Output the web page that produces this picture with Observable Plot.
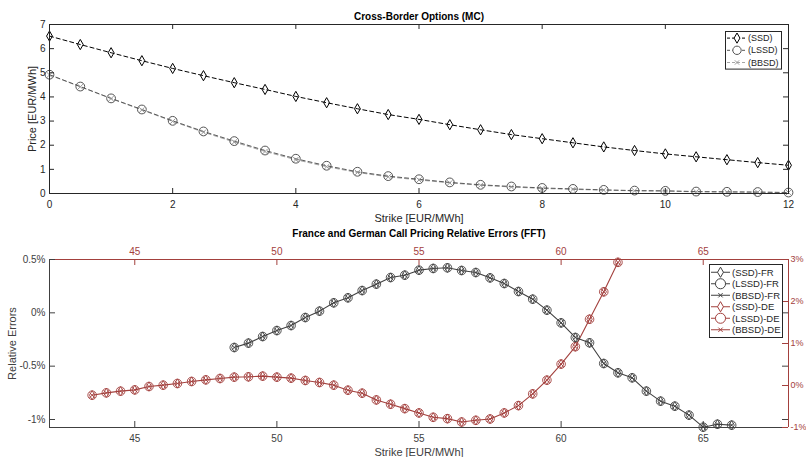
<!DOCTYPE html>
<html><head><meta charset="utf-8">
<script src="https://cdn.jsdelivr.net/npm/d3@7"></script>
<script src="https://cdn.jsdelivr.net/npm/@observablehq/plot@0.6"></script>
<style>
body{margin:0;background:#fff;}
#c{width:806px;}
#c svg{display:block;}
</style>
</head><body><div id="c"></div>
<script>
// ---------- data: top panel (MC prices) ----------
const mcStrike = [0,0.5,1,1.5,2,2.5,3,3.5,4,4.5,5,5.5,6,6.5,7,7.5,8,8.5,9,9.5,10,10.5,11,11.5,12];
const mcSSD  = [6.52,6.17,5.83,5.50,5.18,4.88,4.59,4.31,4.02,3.76,3.51,3.27,3.07,2.85,2.64,2.44,2.27,2.10,1.93,1.78,1.64,1.52,1.40,1.28,1.17];
const mcLSSD = [4.92,4.43,3.94,3.48,3.01,2.57,2.17,1.78,1.44,1.15,0.90,0.72,0.59,0.46,0.36,0.29,0.23,0.19,0.15,0.12,0.11,0.08,0.07,0.06,0.04];
const mcBBSD = [4.91,4.42,3.93,3.46,2.99,2.54,2.13,1.74,1.40,1.11,0.87,0.69,0.56,0.44,0.34,0.27,0.21,0.17,0.14,0.11,0.10,0.07,0.06,0.05,0.04];
const mcXTicks = [0,2,4,6,8,10,12];
const mcYTicks = [0,1,2,3,4,5,6,7];

// ---------- data: bottom panel (FFT relative errors, %) ----------
const frStrike = [48.5,49,49.5,50,50.5,51,51.5,52,52.5,53,53.5,54,54.5,55,55.5,56,56.5,57,57.5,58,58.5,59,59.5,60,60.5,61,61.5,62,62.5,63,63.5,64,64.5,65,65.5,66];
const frErr = [-0.325,-0.284,-0.222,-0.166,-0.119,-0.044,0.016,0.094,0.141,0.209,0.269,0.331,0.353,0.400,0.416,0.422,0.397,0.378,0.328,0.275,0.200,0.128,0.025,-0.094,-0.231,-0.281,-0.475,-0.562,-0.609,-0.734,-0.828,-0.875,-0.959,-1.072,-1.044,-1.053];
const deStrike = [43.5,44,44.5,45,45.5,46,46.5,47,47.5,48,48.5,49,49.5,50,50.5,51,51.5,52,52.5,53,53.5,54,54.5,55,55.5,56,56.5,57,57.5,58,58.5,59,59.5,60,60.5,61,61.5,62];
const deErr = [-0.231,-0.175,-0.135,-0.104,-0.024,0.008,0.048,0.096,0.135,0.167,0.199,0.207,0.223,0.199,0.175,0.120,0.072,0.008,-0.112,-0.183,-0.343,-0.446,-0.550,-0.653,-0.757,-0.789,-0.869,-0.829,-0.797,-0.653,-0.478,-0.199,0.127,0.510,0.924,1.578,2.231,2.932];
const errXTicks = [45,50,55,60,65];
const frYTicks = [0.5,0,-0.5,-1];
const deYTicks = [3,2,1,0,-1];

const FONT = "'Liberation Sans', Arial, Helvetica, sans-serif";
const AX = "#262626";
const GR = "#404040";
const RED = "#a3403d";

// ---------- top panel ----------
const mcData = mcStrike.map((x,i)=>({x, ssd: mcSSD[i], lssd: mcLSSD[i], bbsd: mcBBSD[i]}));
const W = 806, ML = 49, MR = 18;
const H1 = 226, MT1 = 24, MB1 = 33, IH1 = H1 - MT1 - MB1;
const dash = "4,3";

const topChart = Plot.plot({
  width: W, height: H1, marginTop: MT1, marginBottom: MB1, marginLeft: ML, marginRight: MR,
  x: {domain: [0, 12]},
  y: {domain: [0, 7]},
  style: {fontFamily: FONT, fontSize: "10px", color: AX, background: "#fff"},
  marks: [
    Plot.line(mcData, {x: "x", y: "bbsd", stroke: "#a6a6a6", strokeWidth: 1, strokeDasharray: dash}),
    Plot.line(mcData, {x: "x", y: "lssd", stroke: "#5a5a5a", strokeWidth: 1, strokeDasharray: dash}),
    Plot.line(mcData, {x: "x", y: "ssd", stroke: "#000", strokeWidth: 1, strokeDasharray: dash}),
    Plot.dot(mcData, {x: "x", y: "bbsd", symbol: "times", r: 2.6, stroke: "#9a9a9a", strokeWidth: 1}),
    Plot.dot(mcData, {x: "x", y: "lssd", symbol: "circle", r: 4.4, stroke: "#555", strokeWidth: 1, fill: "none"}),
    Plot.dot(mcData, {x: "x", y: "ssd", symbol: "diamond", r: 3.1, stroke: "#000", strokeWidth: 1, fill: "none"}),
    Plot.frame({stroke: AX}),
    Plot.tickX(mcXTicks, {x: d => d, insetTop: IH1 - 5, stroke: AX}),
    Plot.tickX(mcXTicks, {x: d => d, insetBottom: IH1 - 5, stroke: AX}),
    Plot.tickY(mcYTicks, {y: d => d, insetRight: W - ML - MR - 5, stroke: AX}),
    Plot.tickY(mcYTicks, {y: d => d, insetLeft: W - ML - MR - 5, stroke: AX}),
    Plot.axisX({ticks: mcXTicks, tickSize: 0, tickPadding: 7, label: null, fill: AX, tickFormat: d => String(d)}),
    Plot.axisY({ticks: mcYTicks, tickSize: 0, tickPadding: 4, label: null, fill: AX, tickFormat: d => String(d)}),
    Plot.text(["Strike [EUR/MWh]"], {frameAnchor: "bottom", lineAnchor: "middle", dy: 25, fill: AX, fontSize: 11}),
    Plot.text(["Price [EUR/MWh]"], {frameAnchor: "left", textAnchor: "middle", dx: -17, rotate: -90, fill: AX, fontSize: 11}),
    Plot.text(["Cross-Border Options (MC)"], {frameAnchor: "top", lineAnchor: "middle", dy: -8, fill: "#000", fontWeight: "bold", fontSize: 10})
  ]
});

// ---------- bottom panel ----------
const H2 = 231, MT2 = 33, MB2 = 30, IH2 = H2 - MT2 - MB2;
const yLo = -1.075, yHi = 0.5;
const toLeft = v => yLo + (v + 1) / 4 * (yHi - yLo);   // right axis [-1,3] -> left axis units
const frData = frStrike.map((x,i)=>({x, y: frErr[i]}));
const deData = deStrike.map((x,i)=>({x, y: toLeft(deErr[i])}));
const pct = d => (Math.round(d*10)/10) + "%";
const mk = s => s === "times" ? 2.6 : (s === "diamond" ? 2.8 : 4.3);

const bottomChart = Plot.plot({
  width: W, height: H2, marginTop: MT2, marginBottom: MB2, marginLeft: ML, marginRight: MR,
  x: {domain: [42, 68]},
  y: {domain: [yLo, yHi]},
  style: {fontFamily: FONT, fontSize: "10px", color: GR, background: "#fff"},
  marks: [
    Plot.line(deData, {x: "x", y: "y", stroke: RED, strokeWidth: 1.1}),
    Plot.line(frData, {x: "x", y: "y", stroke: GR, strokeWidth: 1.1}),
    ...["circle", "diamond", "times"].map(s => Plot.dot(deData, {x: "x", y: "y", symbol: s, r: mk(s), stroke: RED, strokeWidth: 0.9, fill: "none"})),
    ...["circle", "diamond", "times"].map(s => Plot.dot(frData, {x: "x", y: "y", symbol: s, r: mk(s), stroke: GR, strokeWidth: 0.9, fill: "none"})),
    Plot.ruleX([42], {stroke: GR}),
    Plot.ruleY([yLo], {stroke: GR}),
    Plot.ruleX([68], {stroke: RED}),
    Plot.ruleY([yHi], {stroke: RED}),
    Plot.tickX(errXTicks, {x: d => d, insetTop: IH2 - 6, stroke: GR}),
    Plot.tickX(errXTicks, {x: d => d, insetBottom: IH2 - 6, stroke: RED}),
    Plot.tickY(frYTicks, {y: d => d, insetRight: W - ML - MR - 6, stroke: GR}),
    Plot.tickY(frYTicks, {y: d => d, insetLeft: W - ML - MR - 6, stroke: GR}),
    Plot.tickY(deYTicks.map(toLeft), {y: d => d, insetLeft: W - ML - MR - 6, stroke: RED}),
    Plot.axisX({ticks: errXTicks, tickSize: 0, tickPadding: 7, label: null, fill: GR}),
    Plot.axisX({anchor: "top", ticks: errXTicks, tickSize: 0, tickPadding: 5, label: null, fill: RED}),
    Plot.axisY({ticks: frYTicks, tickSize: 0, tickPadding: 4, label: null, fill: GR, tickFormat: pct}),
    Plot.axisY({anchor: "right", ticks: deYTicks.map(toLeft), tickSize: 0, tickPadding: 2, label: null, fill: RED, fontSize: 9,
      tickFormat: d => pct((d - yLo) / (yHi - yLo) * 4 - 1)}),
    Plot.text(["Strike [EUR/MWh]"], {frameAnchor: "bottom", lineAnchor: "middle", dy: 24.5, fill: GR, fontSize: 11}),
    Plot.text(["Relative Errors"], {frameAnchor: "left", textAnchor: "middle", dx: -37, rotate: -90, fill: GR, fontSize: 11}),
    Plot.text(["France and German Call Pricing Relative Errors (FFT)"], {frameAnchor: "top", lineAnchor: "middle", dy: -26, fill: "#000", fontWeight: "bold", fontSize: 10})
  ]
});

document.getElementById("c").append(topChart, bottomChart);

// ---------- legends ----------
function legend(svg, x0, y0, w, entries, rowH, opts) {
  const g = d3.select(svg).append("g").attr("font-family", FONT).attr("font-size", opts.fs).attr("text-anchor", "start");
  const h = entries.length * rowH + opts.pad * 2;
  g.append("rect").attr("x", x0 + 0.5).attr("y", y0 + 0.5).attr("width", w).attr("height", h)
    .attr("fill", "#fff").attr("stroke", "#262626").attr("stroke-width", 1);
  entries.forEach((e, i) => {
    const cy = y0 + opts.pad + rowH * (i + 0.5) + 0.5;
    g.append("line").attr("x1", x0 + opts.l1).attr("x2", x0 + opts.l2).attr("y1", cy).attr("y2", cy)
      .attr("stroke", e.line).attr("stroke-width", 1).attr("stroke-dasharray", e.dash || null);
    const sym = {diamond: d3.symbolDiamond, circle: d3.symbolCircle, times: d3.symbolTimes}[e.symbol];
    const size = e.symbol === "times" ? 14 : (e.symbol === "circle" ? opts.cs : opts.ds);
    g.append("path").attr("d", d3.symbol(sym, size)()).attr("transform", `translate(${x0 + (opts.l1 + opts.l2) / 2},${cy})`)
      .attr("fill", e.symbol === "times" ? "none" : "#fff").attr("stroke", e.marker).attr("stroke-width", 1);
    g.append("text").attr("x", x0 + opts.tx).attr("y", cy).attr("dy", "0.35em").attr("fill", "#262626").text(e.label);
  });
}
legend(topChart, 725, 31, 56, [
  {label: "(SSD)", symbol: "diamond", line: "#000", marker: "#000", dash: "3,2"},
  {label: "(LSSD)", symbol: "circle", line: "#555", marker: "#555", dash: "3,2"},
  {label: "(BBSD)", symbol: "times", line: "#a6a6a6", marker: "#9a9a9a", dash: "3,2"}
], 12.2, {fs: "9px", pad: 0.5, l1: 2, l2: 22, tx: 23, cs: 55, ds: 30});

legend(bottomChart, 709, 38, 73, [
  {label: "(SSD)-FR", symbol: "diamond", line: GR, marker: GR},
  {label: "(LSSD)-FR", symbol: "circle", line: GR, marker: GR},
  {label: "(BBSD)-FR", symbol: "times", line: GR, marker: GR},
  {label: "(SSD)-DE", symbol: "diamond", line: RED, marker: RED},
  {label: "(LSSD)-DE", symbol: "circle", line: RED, marker: RED},
  {label: "(BBSD)-DE", symbol: "times", line: RED, marker: RED}
], 11.5, {fs: "9.5px", pad: 2, l1: 2, l2: 21, tx: 23, cs: 80, ds: 30});
</script>
</body></html>
